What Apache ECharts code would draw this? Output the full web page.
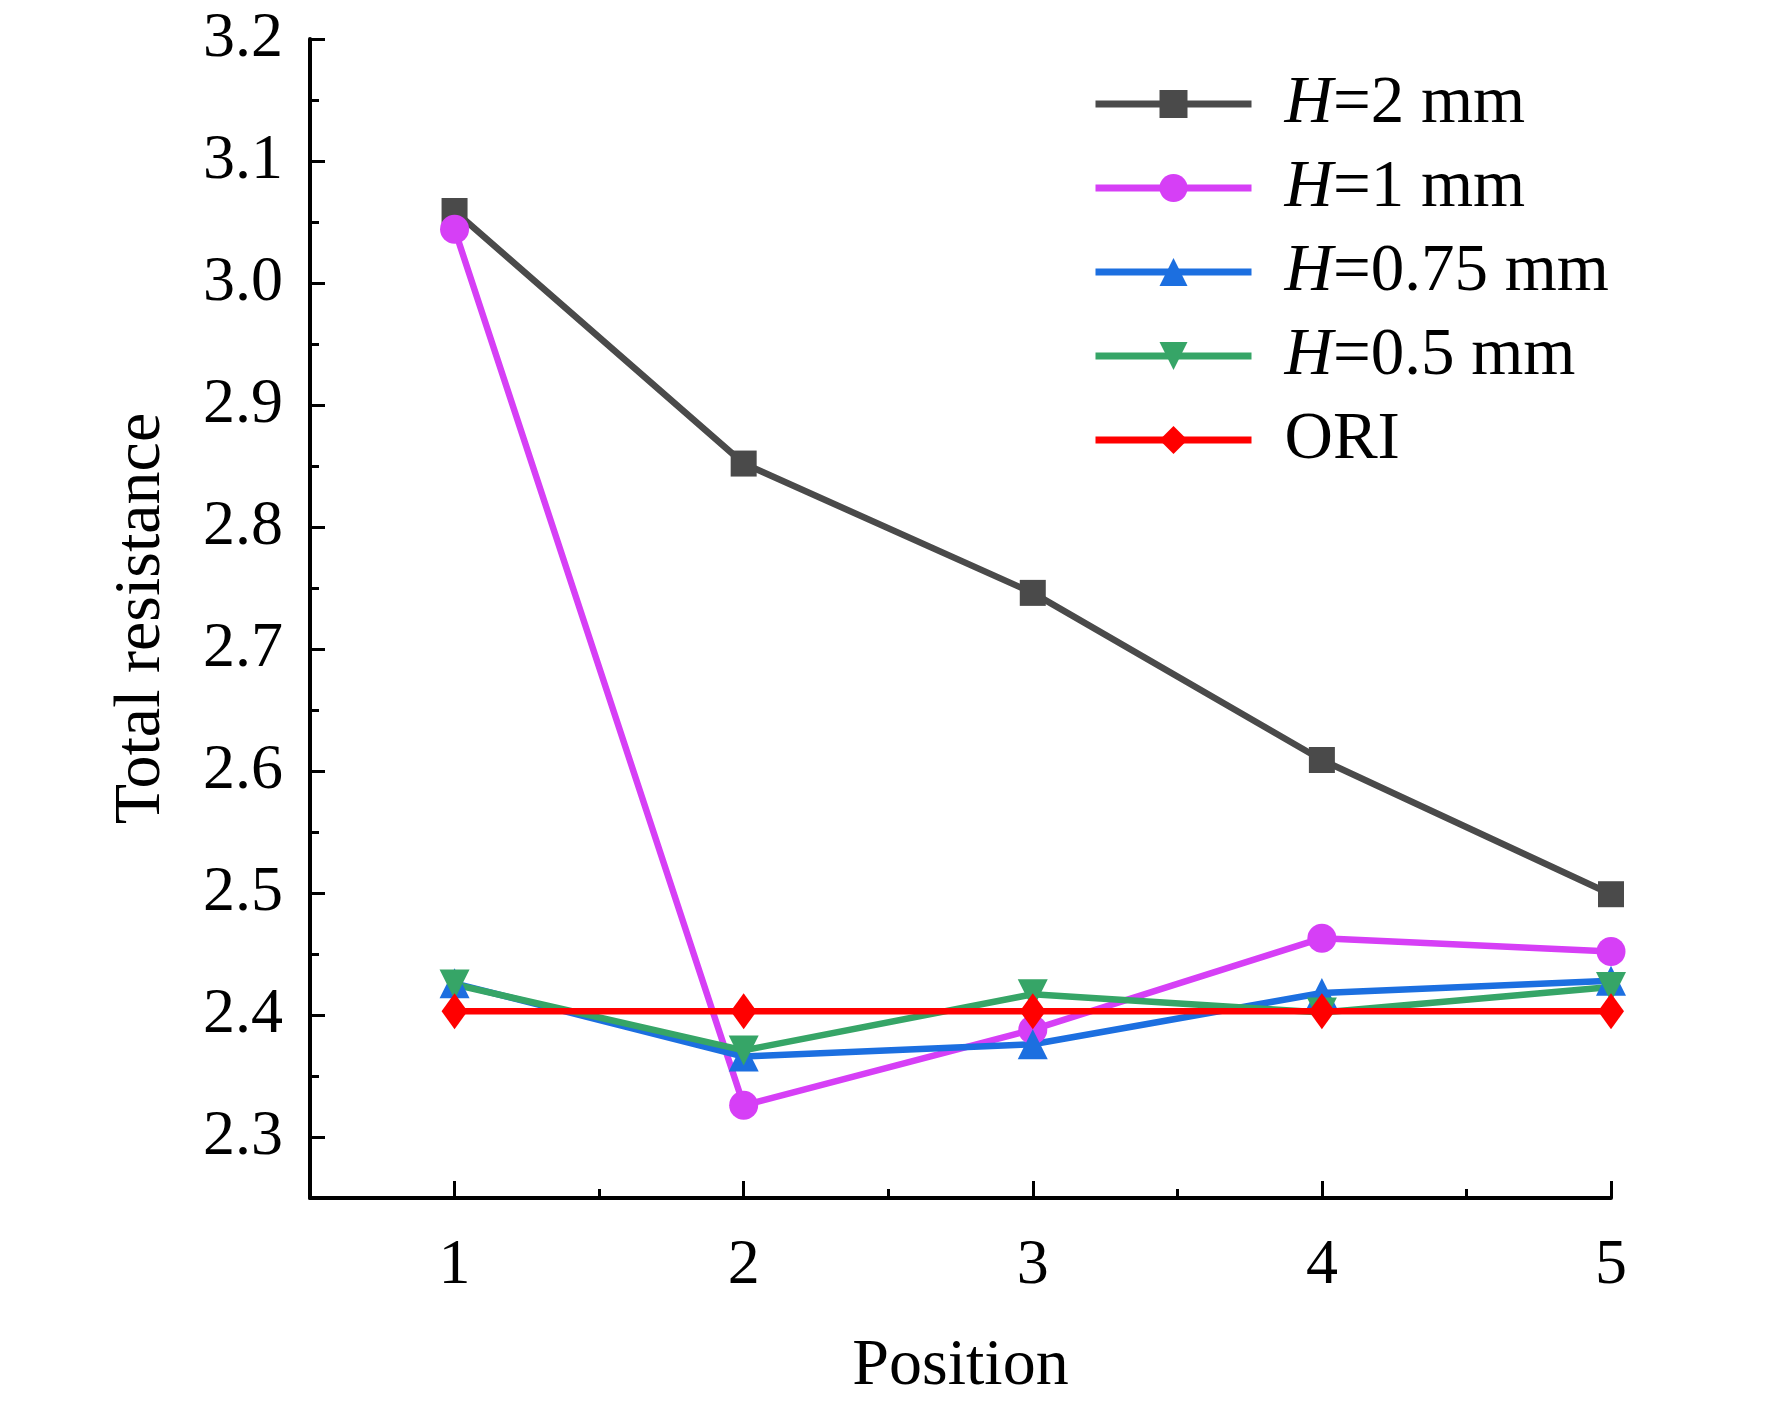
<!DOCTYPE html>
<html>
<head>
<meta charset="utf-8">
<title>Total resistance vs position</title>
<script src="https://cdn.jsdelivr.net/npm/echarts@6/dist/echarts.min.js"></script>
<style>
  html, body { margin: 0; padding: 0; background: #ffffff; }
  #chart { width: 1772px; height: 1405px; }
</style>
</head>
<body>
<div id="chart"></div>
<script>
// Positions along the x axis
const positions = [1, 2, 3, 4, 5];

// Total resistance
const h2mm   = [3.059, 2.852, 2.746, 2.609, 2.499];
const h1mm   = [3.044, 2.326, 2.388, 2.463, 2.452];
const h075mm = [2.426, 2.366, 2.376, 2.418, 2.428];
const h05mm  = [2.425, 2.371, 2.417, 2.402, 2.423];
const ori    = [2.403, 2.403, 2.403, 2.403, 2.403];

// Tick values
const xTicks = [1, 2, 3, 4, 5];
const xMinorTicks = [1.5, 2.5, 3.5, 4.5];
const yTicks = [2.3, 2.4, 2.5, 2.6, 2.7, 2.8, 2.9, 3.0, 3.1, 3.2];
const yMinorTicks = [2.35, 2.45, 2.55, 2.65, 2.75, 2.85, 2.95, 3.05, 3.15];

const serif = "'Liberation Serif', 'Times New Roman', serif";

const chart = echarts.init(document.getElementById("chart"));

function pairs(values) {
    return positions.map((p, i) => [p, values[i]]);
}

function lineSeries(name, values, color, symbol, size) {
    return {
        name: name,
        type: "line",
        data: pairs(values),
        symbol: symbol,
        symbolSize: size,
        xAxisIndex: 0,
        yAxisIndex: 0,
        itemStyle: { color: color },
        lineStyle: { color: color, width: 6.5 }
    };
}

const xBase = { type: "value", min: 0.5, max: 5, gridIndex: 0, splitLine: { show: false } };
const yBase = { type: "value", min: 2.25, max: 3.2, gridIndex: 0, splitLine: { show: false } };

const option = {
    animation: false,
    backgroundColor: "#ffffff",
    grid: { left: 310, right: 161, top: 39, bottom: 207, outerBoundsMode: "none" },
    legend: {
        orient: "vertical",
        left: 1087,
        top: 64,
        itemWidth: 156,
        itemHeight: 35,
        itemGap: 14,
        selectedMode: false,
        lineStyle: { width: 7 },
        textStyle: {
            fontFamily: serif,
            fontSize: 67,
            lineHeight: 70,
            color: "#000000",
            padding: [0, 0, 0, 28],
            rich: {
                i: { fontFamily: serif, fontSize: 67, lineHeight: 70, fontStyle: "italic", color: "#000000" }
            }
        },
        formatter: function (name) {
            if (name.indexOf("H=") === 0) {
                return "{i|H}" + name.slice(1);
            }
            return name;
        }
    },
    xAxis: [
        Object.assign({}, xBase, {
            position: "bottom",
            name: "Position",
            nameLocation: "middle",
            nameGap: 136,
            nameTextStyle: { fontFamily: serif, fontSize: 66, color: "#000000" },
            axisLine: { show: true, lineStyle: { color: "#000000", width: 4 } },
            axisTick: { show: true, inside: true, length: 17, customValues: xTicks, lineStyle: { color: "#000000", width: 3 } },
            axisLabel: { show: true, margin: 36, customValues: xTicks, fontFamily: serif, fontSize: 64, color: "#000000" }
        }),
        Object.assign({}, xBase, {
            position: "bottom",
            axisLine: { show: false },
            axisTick: { show: true, inside: true, length: 9, customValues: xMinorTicks, lineStyle: { color: "#000000", width: 3 } },
            axisLabel: { show: false }
        })
    ],
    yAxis: [
        Object.assign({}, yBase, {
            position: "left",
            name: "Total resistance",
            nameLocation: "middle",
            nameGap: 135,
            nameTextStyle: { fontFamily: serif, fontSize: 66, color: "#000000" },
            axisLine: { show: true, lineStyle: { color: "#000000", width: 4 } },
            axisTick: { show: true, inside: true, length: 15, customValues: yTicks, lineStyle: { color: "#000000", width: 3 } },
            axisLabel: {
                show: true, margin: 27, customValues: yTicks,
                fontFamily: serif, fontSize: 64, color: "#000000",
                formatter: v => v.toFixed(1)
            }
        }),
        Object.assign({}, yBase, {
            position: "left",
            axisLine: { show: false },
            axisTick: { show: true, inside: true, length: 9, customValues: yMinorTicks, lineStyle: { color: "#000000", width: 3 } },
            axisLabel: { show: false }
        })
    ],
    series: [
        lineSeries("H=2 mm", h2mm, "#4a4a4a", "rect", 26),
        lineSeries("H=1 mm", h1mm, "#d63ff6", "circle", 29),
        lineSeries("H=0.75 mm", h075mm, "#1c6fe0", "triangle", 30),
        Object.assign(lineSeries("H=0.5 mm", h05mm, "#36a567", "triangle", 30), { symbolRotate: 180 }),
        lineSeries("ORI", ori, "#ff0000", "diamond", [26, 36])
    ]
};

chart.setOption(option);
window.addEventListener("resize", () => chart.resize());
</script>
</body>
</html>
